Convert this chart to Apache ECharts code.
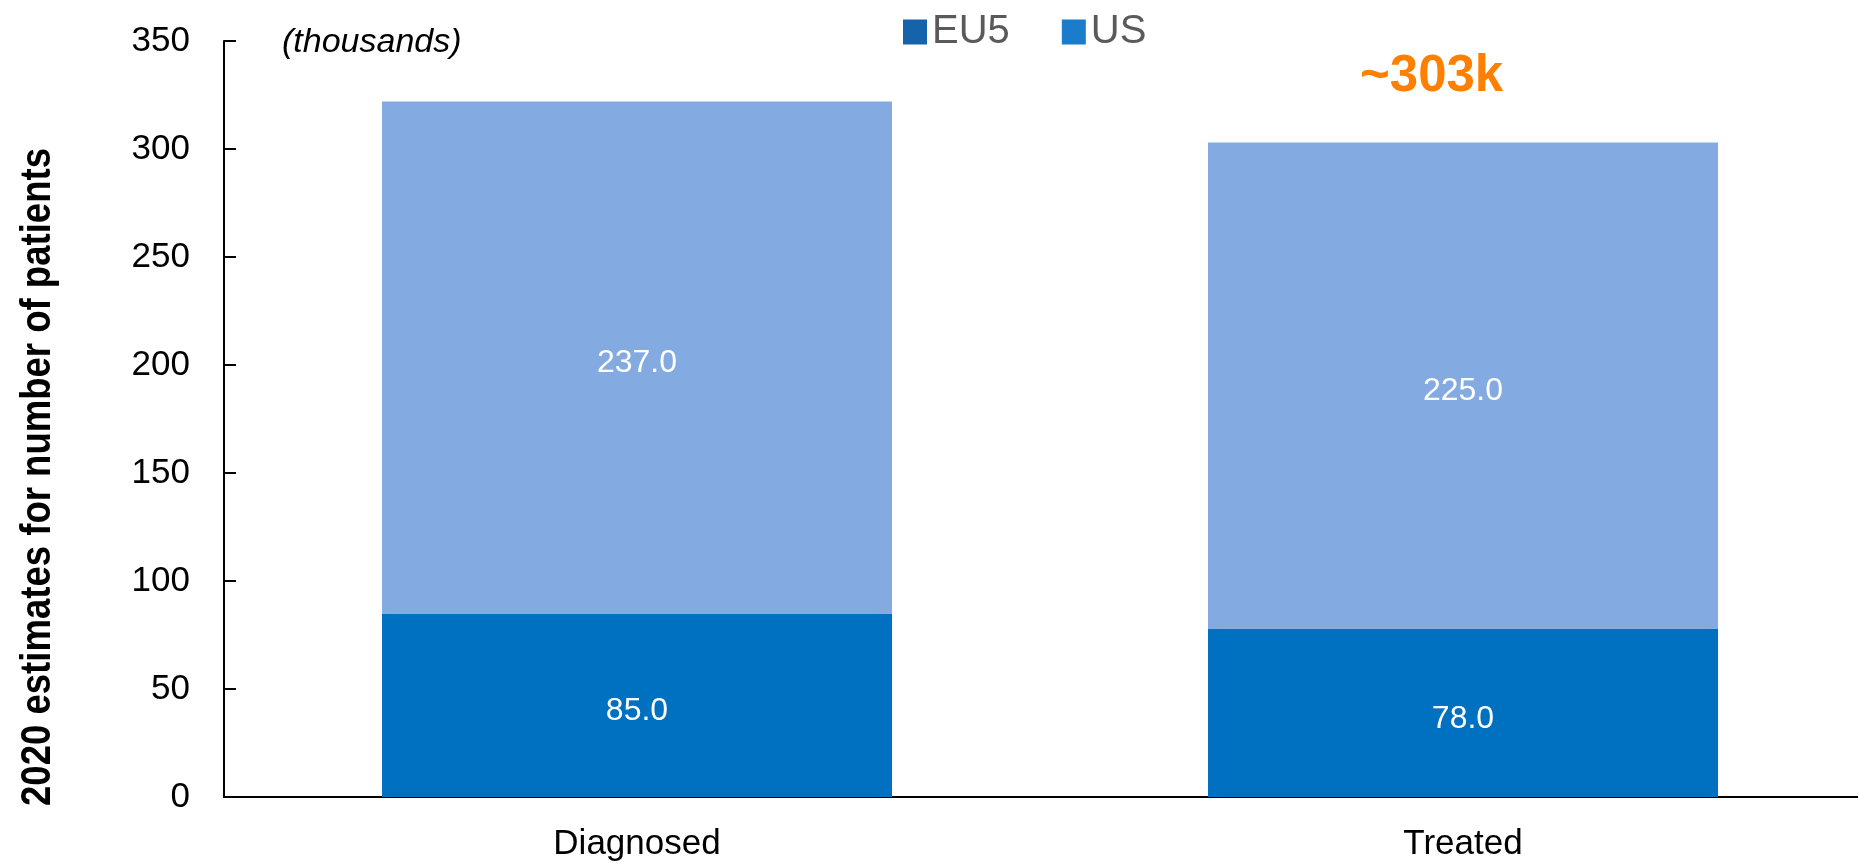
<!DOCTYPE html>
<html>
<head>
<meta charset="utf-8">
<script src="https://cdn.jsdelivr.net/npm/echarts@6/dist/echarts.min.js"></script>
<style>
  html, body { margin: 0; padding: 0; background: #fff; overflow: hidden; }
  /* the x axis runs a little past the right edge of the window */
  #chart { width: 1876px; height: 865px; }
</style>
</head>
<body>
<div id="chart"></div>
<script>
// categories and values (thousands of patients)
var categories = ['Diagnosed', 'Treated'];
var eu5Values = [85.0, 78.0];
var usValues = [237.0, 225.0];
var yTicks = [0, 50, 100, 150, 200, 250, 300, 350];

var sans = '"Liberation Sans", Arial, sans-serif';

var chart = echarts.init(document.getElementById('chart'));

var segLabel = {
  show: true,
  position: 'inside',
  offset: [0, 6],
  color: '#fff',
  fontFamily: sans,
  fontSize: 32,
  formatter: function (p) { return p.value.toFixed(1); }
};

var option = {
  backgroundColor: '#ffffff',
  animation: false,
  legend: {
    left: 898,
    top: 7,
    itemWidth: 24,
    itemHeight: 25,
    itemGap: 52,
    icon: 'rect',
    textStyle: { fontFamily: sans, fontSize: 40, color: '#5a5a5a' },
    data: [
      { name: 'EU5', itemStyle: { color: '#1563aa' } },
      { name: 'US', itemStyle: { color: '#1a7cca' } }
    ]
  },
  grid: { left: 224, top: 41, right: 0, bottom: 68 },
  xAxis: {
    type: 'category',
    data: categories,
    axisLine: { lineStyle: { color: '#000', width: 2 } },
    axisTick: { inside: true, length: 10, lineStyle: { color: '#000', width: 1 } },
    axisLabel: { color: '#000', fontFamily: sans, fontSize: 35, margin: 30 }
  },
  yAxis: {
    type: 'value',
    min: yTicks[0],
    max: yTicks[yTicks.length - 1],
    interval: 50,
    axisLine: { show: true, lineStyle: { color: '#000', width: 2 } },
    axisTick: { show: true, inside: true, length: 12, lineStyle: { color: '#000', width: 2 } },
    splitLine: { show: false },
    axisLabel: { color: '#000', fontFamily: sans, fontSize: 35, margin: 34 }
  },
  series: [
    {
      name: 'EU5',
      type: 'bar',
      stack: 'total',
      barWidth: 510,
      data: eu5Values,
      itemStyle: { color: '#0070c0' },
      label: segLabel
    },
    {
      name: 'US',
      type: 'bar',
      stack: 'total',
      barWidth: 510,
      data: usValues,
      itemStyle: { color: '#84aae2' },
      label: segLabel
    }
  ],
  graphic: [
    {
      // y axis title, bold and condensed
      type: 'text',
      x: 38,
      y: 477,
      rotation: Math.PI / 2,
      scaleX: 0.87,
      style: {
        text: '2020 estimates for number of patients',
        font: 'bold 42px ' + sans,
        fill: '#000',
        align: 'center',
        verticalAlign: 'middle'
      }
    },
    {
      type: 'text',
      left: 282,
      top: 26,
      style: {
        text: '(thousands)',
        font: 'italic 34px ' + sans,
        fill: '#000'
      }
    },
    {
      type: 'text',
      left: 1360,
      top: 51,
      style: {
        text: '~303k',
        font: 'bold 51px ' + sans,
        fill: '#ff8000'
      }
    }
  ]
};

chart.setOption(option);
</script>
</body>
</html>
